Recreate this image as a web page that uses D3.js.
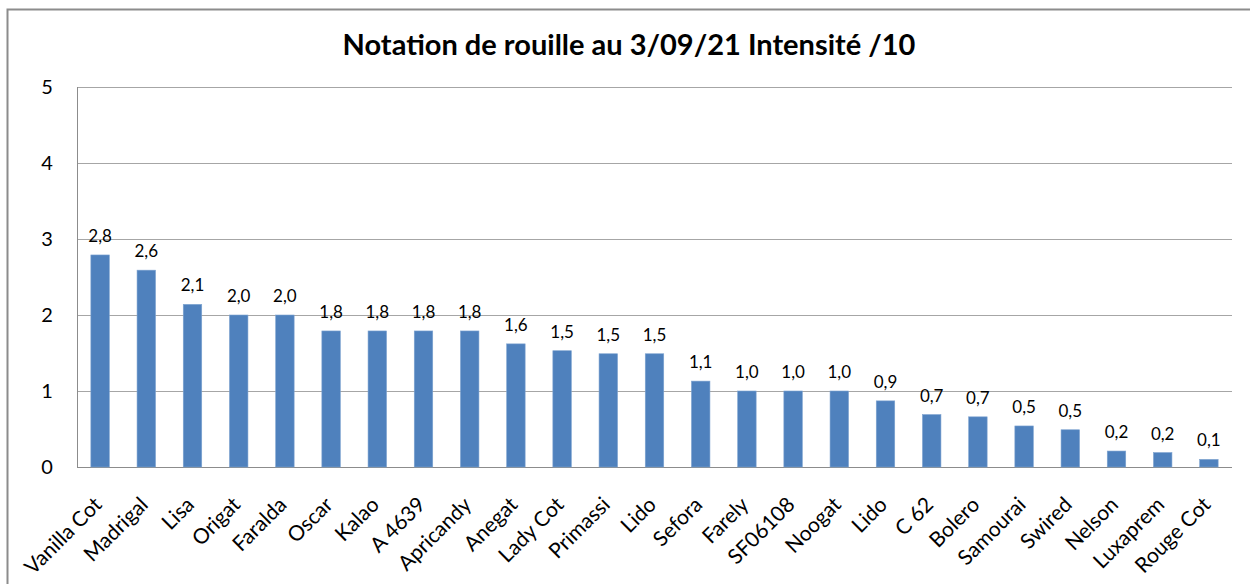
<!DOCTYPE html>
<html lang="fr">
<head>
<meta charset="UTF-8">
<title>Notation de rouille</title>
<style>
  html, body { margin: 0; padding: 0; background: #ffffff; }
  svg { display: block; font-family: Lato, "Open Sans", sans-serif; }
</style>
</head>
<body>
<svg id="svg" width="1250" height="584"></svg>
<script src="https://d3js.org/d3.v7.min.js"></script>
<script>
// varieties and rust intensity (/10)
const varietes = ['Vanilla Cot', 'Madrigal', 'Lisa', 'Origat', 'Faralda', 'Oscar', 'Kalao', 'A 4639',
  'Apricandy', 'Anegat', 'Lady Cot', 'Primassi', 'Lido', 'Sefora', 'Farely', 'SF06108', 'Noogat',
  'Lido', 'C 62', 'Bolero', 'Samourai', 'Swired', 'Nelson', 'Luxaprem', 'Rouge Cot'];
const intensite = [2.79, 2.59, 2.14, 2.0, 2.0, 1.79, 1.79, 1.79, 1.79, 1.62, 1.53, 1.49, 1.49,
  1.13, 1.0, 1.0, 1.0, 0.87, 0.69, 0.66, 0.54, 0.49, 0.21, 0.19, 0.10];
const yTicks = [0, 1, 2, 3, 4, 5];
const titre = 'Notation de rouille au 3/09/21 Intensité /10';

const svg = d3.select('#svg');
const plotLeft = 77, plotRight = 1232, plotTop = 87, plotBottom = 467;

// chart frame (partly outside the window)
svg.append('rect')
  .attr('x', 7.5).attr('y', 9.5)
  .attr('width', 1300).attr('height', 700)
  .attr('fill', 'none').attr('stroke', '#8c8c8c').attr('stroke-width', 2);

const x = d3.scaleBand()
  .domain(d3.range(varietes.length))
  .range([plotLeft, plotRight])
  .paddingInner(0.6).paddingOuter(0.3);

const y = d3.scaleLinear().domain([0, 5]).range([plotBottom, plotTop]);

// gridlines
svg.append('g')
  .selectAll('line')
  .data(yTicks)
  .enter()
  .append('line')
  .attr('x1', plotLeft).attr('x2', plotRight)
  .attr('y1', d => Math.round(y(d)) + 0.5)
  .attr('y2', d => Math.round(y(d)) + 0.5)
  .attr('stroke', d => d === 0 ? '#8c8c8c' : '#a6a6a6')
  .attr('stroke-width', 1);

svg.append('line')
  .attr('x1', plotLeft + 0.5).attr('x2', plotLeft + 0.5)
  .attr('y1', plotTop).attr('y2', plotBottom)
  .attr('stroke', '#8c8c8c');

// y tick labels
svg.append('g')
  .selectAll('text')
  .data(yTicks)
  .enter()
  .append('text')
  .attr('x', 47)
  .attr('y', d => y(d) + 7)
  .attr('text-anchor', 'middle')
  .attr('font-size', 20)
  .attr('fill', '#000')
  .text(d => d);

// bars
svg.append('g')
  .selectAll('rect')
  .data(intensite)
  .enter()
  .append('rect')
  .attr('x', (d, i) => x(i))
  .attr('y', d => y(d))
  .attr('width', x.bandwidth())
  .attr('height', d => plotBottom - y(d))
  .attr('fill', '#4f81bd')
  .attr('stroke', '#7ea3d0')
  .attr('stroke-width', 0.6);

// value labels
const fmt = d3.format('.1f');
svg.append('g')
  .selectAll('text')
  .data(intensite)
  .enter()
  .append('text')
  .attr('x', (d, i) => x(i) + x.bandwidth() / 2)
  .attr('y', d => y(d) - 13)
  .attr('text-anchor', 'middle')
  .attr('font-size', 17)
  .attr('fill', '#000')
  .text(d => fmt(d).replace('.', ','));

// category labels
svg.append('g')
  .selectAll('text')
  .data(varietes)
  .enter()
  .append('text')
  .attr('transform', (d, i) => `translate(${x(i) + x.bandwidth() / 2 + 3},${plotBottom + 39}) rotate(-45)`)
  .attr('text-anchor', 'end')
  .attr('font-size', 21)
  .attr('fill', '#000')
  .text(d => d);

// title
svg.append('text')
  .attr('x', 629)
  .attr('y', 55)
  .attr('text-anchor', 'middle')
  .attr('font-size', 29)
  .attr('font-weight', 'bold')
  .attr('fill', '#000')
  .text(titre);
</script>
</body>
</html>
